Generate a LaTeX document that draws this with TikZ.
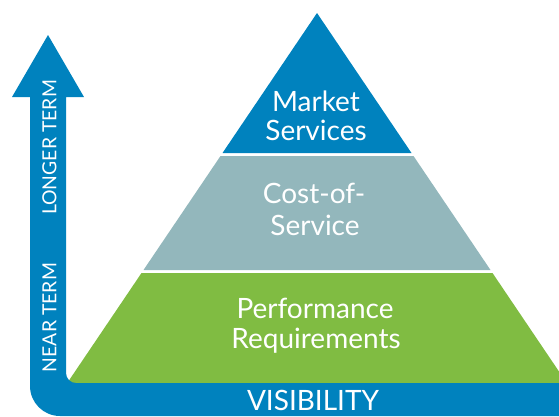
\documentclass[tikz,border=0pt]{standalone}
\usepackage{fontspec}
\setmainfont{Lato}
\definecolor{vblue}{RGB}{0,130,190}
\definecolor{vteal}{RGB}{147,183,188}
\definecolor{vgreen}{RGB}{128,188,66}
\begin{document}
\begin{tikzpicture}[x=1pt,y=-1pt,
  tiertext/.style={text=white,font=\fontsize{28}{32}\selectfont,anchor=base,inner sep=0pt},
  sidetext/.style={text=white,font=\fontsize{19.4}{22}\selectfont,rotate=90,inner sep=0pt,anchor=center}]
\useasboundingbox (0,0) rectangle (559,416);
\clip (0,0) rectangle (559,416);
% pyramid
\fill[vblue] (317,13) -- (411.5,153) -- (222.5,153) -- cycle;
\fill[vteal] (220.5,156) -- (413.5,156) -- (490.5,270) -- (143.5,270) -- cycle;
\fill[vgreen] (141.5,273) -- (492.5,273) -- (566.75,383) -- (67.25,383) -- cycle;
% arrow
\fill[vblue] (30,97) -- (12,97) -- (48,35) -- (84,97) -- (66,97) -- (66,373)
  arc[start angle=180,end angle=90,radius=10] -- (559,383) -- (559,416) -- (60,416)
  arc[start angle=90,end angle=180,radius=30] -- cycle;
% texts
\node[tiertext] (m1) at (316,111) {Market};
\node[tiertext] (m2) at (316,140) {Services};
\node[tiertext] (c1) at (314,203) {Cost-of-};
\node[tiertext] (c2) at (315,235) {Service};
\node[tiertext] (p1) at (315,318) {Performance};
\node[tiertext] (p2) at (316,348) {Requirements};
\node[tiertext] (vis) at (313,410) {VISIBILITY};
\node[sidetext] (lt) at (49.5,147.5) {LONGER TERM};
\node[sidetext] (nt) at (49.5,317.5) {NEAR TERM};
\end{tikzpicture}
\end{document}
